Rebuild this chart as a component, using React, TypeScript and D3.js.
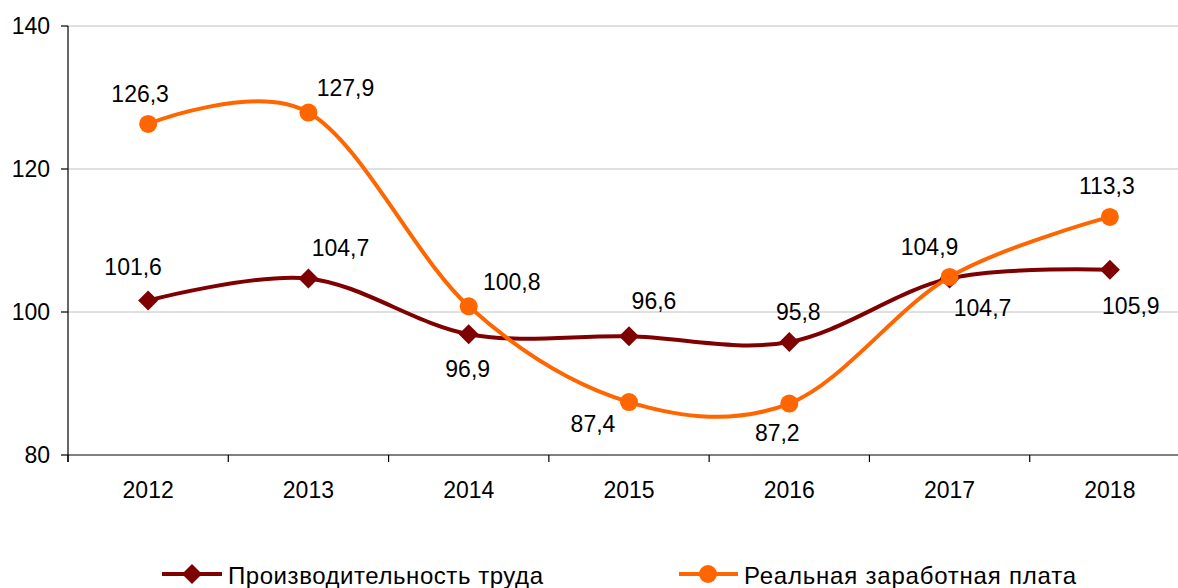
import React from "react";
import * as d3 from "d3";

const years = ["2012", "2013", "2014", "2015", "2016", "2017", "2018"];
const productivity = [101.6, 104.7, 96.9, 96.6, 95.8, 104.7, 105.9];
const wages = [126.3, 127.9, 100.8, 87.4, 87.2, 104.9, 113.3];
const productivityLabels = ["101,6", "104,7", "96,9", "96,6", "95,8", "104,7", "105,9"];
const wagesLabels = ["126,3", "127,9", "100,8", "87,4", "87,2", "104,9", "113,3"];
const yTicks = [80, 100, 120, 140];
const seriesNames = ["Производительность труда", "Реальная заработная плата"];

// label offsets (styling: placement relative to the point)
const prodOffsets: [number, number][] = [[-15, -34], [32, -31], [-1, 35], [25, -36], [9, -30], [33, 29], [21, 36]];
const wageOffsets: [number, number][] = [[-8, -30], [37, -25], [43, -25], [-36, 22], [-12, 29], [-20, -30], [-3, -31]];

const W = 1178, H = 588;
const left = 68, right = 1190, top = 26, bottom = 455;
const FONT = "Liberation Sans, Arial, sans-serif";
const DARK = "#7f0000";
const ORANGE = "#ff6600";
const FS = 23;

export default function App() {
  const x = d3.scaleBand<string>().domain(years).range([left, right]).padding(0);
  const cx = (i: number) => (x(years[i]) as number) + x.bandwidth() / 2;
  const y = d3.scaleLinear().domain([80, 140]).range([bottom, top]);
  const line = d3
    .line<number>()
    .x((_, i) => cx(i))
    .y((d) => y(d))
    .curve(d3.curveCardinal.tension(0));

  const diamond = (px: number, py: number, r: number) =>
    `M${px},${py - r}L${px + r},${py}L${px},${py + r}L${px - r},${py}Z`;

  const tickXs = years.map((yr) => x(yr) as number).concat([right]);

  return (
    <svg width={W} height={H} style={{ position: "absolute", left: 0, top: 0, background: "#fff" }} fontFamily={FONT}>
      {yTicks.filter((t) => t !== 80).map((t) => (
        <line key={t} x1={left} x2={W} y1={y(t)} y2={y(t)} stroke="#c0c0c0" strokeWidth={1} />
      ))}
      <line x1={left} x2={W} y1={y(80)} y2={y(80)} stroke="#808080" strokeWidth={2} />
      <line x1={left} x2={left} y1={top} y2={bottom + 7} stroke="#000" strokeWidth={1.2} />
      {yTicks.map((t) => (
        <g key={t}>
          <line x1={left - 7} x2={left} y1={y(t)} y2={y(t)} stroke="#000" strokeWidth={1.2} />
          <text x={50} y={y(t)} dy="0.36em" textAnchor="end" fontSize={FS} fill="#000">{t}</text>
        </g>
      ))}
      {tickXs.map((tx, i) => (
        <line key={i} x1={tx} x2={tx} y1={bottom} y2={bottom + 7} stroke="#000" strokeWidth={1.2} />
      ))}
      {years.map((yr, i) => (
        <text key={yr} x={cx(i)} y={498} textAnchor="middle" fontSize={FS} fill="#000">{yr}</text>
      ))}

      <path d={line(productivity) || ""} fill="none" stroke={DARK} strokeWidth={4} />
      <path d={line(wages) || ""} fill="none" stroke={ORANGE} strokeWidth={4} />
      {productivity.map((v, i) => (
        <path key={i} d={diamond(cx(i), y(v), 10)} fill={DARK} />
      ))}
      {wages.map((v, i) => (
        <circle key={i} cx={cx(i)} cy={y(v)} r={9} fill={ORANGE} />
      ))}
      {productivity.map((v, i) => (
        <text key={i} x={cx(i) + prodOffsets[i][0]} y={y(v) + prodOffsets[i][1]} dy="0.36em" textAnchor="middle" fontSize={FS} fill="#000">
          {productivityLabels[i]}
        </text>
      ))}
      {wages.map((v, i) => (
        <text key={i} x={cx(i) + wageOffsets[i][0]} y={y(v) + wageOffsets[i][1]} dy="0.36em" textAnchor="middle" fontSize={FS} fill="#000">
          {wagesLabels[i]}
        </text>
      ))}

      <line x1={162} x2={222} y1={574} y2={574} stroke={DARK} strokeWidth={4} />
      <path d={diamond(192, 574, 10)} fill={DARK} />
      <text x={228} y={584} fontSize={24} textLength={315} lengthAdjust="spacing" fill="#000">{seriesNames[0]}</text>
      <line x1={679} x2={738} y1={574} y2={574} stroke={ORANGE} strokeWidth={4} />
      <circle cx={708} cy={574} r={9} fill={ORANGE} />
      <text x={744} y={584} fontSize={24} textLength={332} lengthAdjust="spacing" fill="#000">{seriesNames[1]}</text>
    </svg>
  );
}
